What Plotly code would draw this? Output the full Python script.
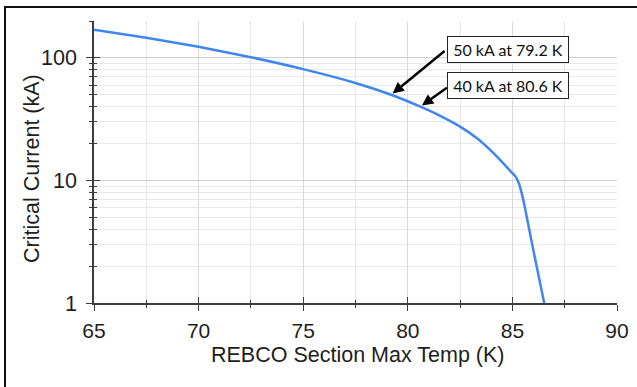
import math
import plotly.graph_objects as go

# Data
temp_K = [65, 67.5, 70, 72.5, 75, 77.5, 79.2, 80.6, 81.5, 82.5, 83.4, 83.9, 84.4,
          84.95, 85.16, 85.32, 85.45, 85.59, 86.0, 86.52]
current_kA = [170, 146, 123.1, 101.3, 81.0, 62.4, 50, 40, 34, 27.5, 21.5, 18, 14.8,
              11.7, 10.7, 9.4, 7.8, 6.1, 2.7, 1.0]

x_ticks = [65, 70, 75, 80, 85, 90]
x_minor = [67.5, 72.5, 77.5, 82.5, 87.5]
y_ticks = [1, 10, 100]
y_tick_labels = ["1", "10", "100"]
y_minor = [2, 3, 4, 5, 6, 7, 8, 9, 20, 30, 40, 50, 60, 70, 80, 90, 200]

callouts = [
    {"label": "50 kA at 79.2 K", "T": 79.2, "I": 50},
    {"label": "40 kA at 80.6 K", "T": 80.6, "I": 40},
]
x_title = "REBCO Section Max Temp (K)"
y_title = "Critical Current (kA)"

FONT = "Liberation Sans"
TXT = "#1e1e1e"
AXIS_COLOR = "#3c3c3c"
L, R, T_, B = 94, 20, 21, 84
W, H = 637, 387
PW, PH = W - L - R, H - T_ - B


def px2paper_x(px):
    return (px - L) / PW


def px2paper_y(py):
    return (H - B - py) / PH


fig = go.Figure()
fig.add_trace(go.Scatter(x=temp_K, y=current_kA, mode="lines",
                         line=dict(color="#3f86ee", width=2.5, shape="spline", smoothing=0.6),
                         showlegend=False, hoverinfo="skip"))
# invisible trace for the overlay axes (inner halves of crossing ticks)
fig.add_trace(go.Scatter(x=temp_K, y=current_kA, mode="lines", xaxis="x2", yaxis="y2",
                         line=dict(color="rgba(0,0,0,0)"), showlegend=False, hoverinfo="skip"))

yr = [0, math.log10(200)]
fig.update_layout(
    width=W, height=H,
    margin=dict(l=L, r=R, t=T_, b=B, autoexpand=False),
    paper_bgcolor="white", plot_bgcolor="white",
    font=dict(family=FONT, color=TXT),
    xaxis=dict(range=[65, 90], tickmode="array", tickvals=x_ticks,
               ticks="outside", ticklen=6, tickwidth=1.3, tickcolor=AXIS_COLOR,
               showline=True, linecolor=AXIS_COLOR, linewidth=1.6,
               showgrid=True, gridcolor="#d9d9d9", gridwidth=1, zeroline=False,
               tickfont=dict(size=21, family=FONT, color=TXT), ticklabelstandoff=2,
               minor=dict(tickvals=x_minor, ticks="outside", ticklen=3, tickwidth=1.2,
                          tickcolor=AXIS_COLOR, showgrid=True, gridcolor="#e6e6e6", gridwidth=1),
               fixedrange=True),
    yaxis=dict(type="log", range=yr, tickmode="array", tickvals=y_ticks, ticktext=y_tick_labels,
               ticks="outside", ticklen=6, tickwidth=1.3, tickcolor=AXIS_COLOR,
               showline=True, linecolor=AXIS_COLOR, linewidth=1.6,
               showgrid=True, gridcolor="#d0d0d0", gridwidth=1.4, zeroline=False,
               tickfont=dict(size=21.5, family=FONT, color=TXT), ticklabelstandoff=5,
               minor=dict(tickvals=y_minor, ticks="outside", ticklen=3, tickwidth=1.2,
                          tickcolor=AXIS_COLOR, showgrid=True, gridcolor="#e8e8e8", gridwidth=1),
               fixedrange=True),
    xaxis2=dict(overlaying="x", anchor="y2", range=[65, 90], tickmode="array", tickvals=x_ticks,
                ticks="inside", ticklen=6, tickwidth=1.3, tickcolor=AXIS_COLOR,
                showticklabels=False, showgrid=False, showline=False, zeroline=False,
                minor=dict(tickvals=x_minor, ticks="inside", ticklen=3, tickwidth=1.2,
                           tickcolor=AXIS_COLOR, showgrid=False),
                fixedrange=True),
    yaxis2=dict(overlaying="y", anchor="x2", type="log", range=yr, tickmode="array", tickvals=y_ticks,
                ticks="inside", ticklen=6, tickwidth=1.3, tickcolor=AXIS_COLOR,
                showticklabels=False, showgrid=False, showline=False, zeroline=False,
                minor=dict(tickvals=y_minor, ticks="inside", ticklen=3, tickwidth=1.2,
                           tickcolor=AXIS_COLOR, showgrid=False),
                fixedrange=True),
)

# axis titles
fig.add_annotation(x=px2paper_x(358), y=px2paper_y(355), xref="paper", yref="paper",
                   text=x_title, showarrow=False, xanchor="center", yanchor="middle",
                   font=dict(size=21.5, family=FONT, color=TXT))
fig.add_annotation(x=px2paper_x(32), y=px2paper_y(169), xref="paper", yref="paper",
                   text=y_title, showarrow=False, xanchor="center", yanchor="middle", textangle=-90,
                   font=dict(size=21.5, family=FONT, color=TXT))

# frame lines (left and top)
fig.add_shape(type="line", xref="paper", yref="paper",
              x0=px2paper_x(5), x1=px2paper_x(5), y0=px2paper_y(7), y1=px2paper_y(H + 2),
              line=dict(color="#111111", width=2))
fig.add_shape(type="line", xref="paper", yref="paper",
              x0=px2paper_x(4), x1=px2paper_x(W + 2), y0=px2paper_y(7), y1=px2paper_y(7),
              line=dict(color="#111111", width=2))

# callout boxes and arrows
box_x = 81.89
box_logy = [2.068, 1.774]
arrow_tail = [(55, -45), (28, -20)]
for c, by, (tx, ty) in zip(callouts, box_logy, arrow_tail):
    fig.add_annotation(x=box_x, y=by, xref="x", yref="y", text=c["label"], showarrow=False,
                       xanchor="left", yanchor="middle", width=118, height=23, align="center",
                       font=dict(family="Lato, sans-serif", size=16, color="#111111"),
                       bgcolor="white", bordercolor="#222222", borderwidth=1, borderpad=1)
    fig.add_annotation(x=c["T"], y=math.log10(c["I"]), xref="x", yref="y", text="",
                       showarrow=True, arrowhead=2, arrowsize=0.9, arrowwidth=2.5,
                       arrowcolor="#000000", ax=tx, ay=ty, standoff=2)

fig.write_html("out.html")
